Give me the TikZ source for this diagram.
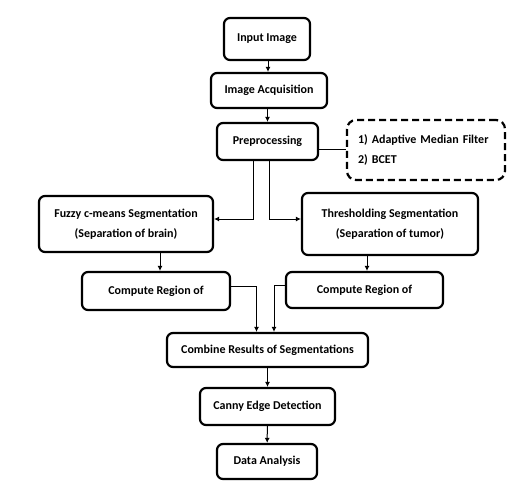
\documentclass[tikz,border=0pt]{standalone}
\usepackage{fontspec}
\setmainfont{Carlito}
\usepackage{tikz}
\usetikzlibrary{arrows.meta}
\tikzset{
  box/.style={draw, line width=2.2pt, rounded corners=6pt, align=center,
    font=\fontsize{12}{20}\selectfont\bfseries, inner sep=0pt},
  dbox/.style={box, dash pattern=on 7pt off 4pt, rounded corners=9pt, align=left},
  arr/.style={line width=1pt, arrows={-{Latex[length=5pt, width=5pt]}}},
  ln/.style={line width=1pt}
}

\begin{document}
\begin{tikzpicture}[x=1pt, y=-1pt]
  \useasboundingbox (0,0) rectangle (507,483);
  \node[box, minimum width=86pt, minimum height=42pt] (input) at (267,39) {Input Image};
  \node[box, minimum width=116pt, minimum height=35pt] (acq) at (269,90.5) {Image Acquisition};
  \node[box, minimum width=101pt, minimum height=37pt] (pre) at (267.5,141.5) {Preprocessing};
  \node[dbox, minimum width=158pt, minimum height=60pt, text width=136pt] (filt) at (426,150) {1) Adaptive Median Filter\\2) BCET};
  \node[box, minimum width=174pt, minimum height=56pt] (fuzzy) at (126,224) {Fuzzy c-means Segmentation\\(Separation of brain)};
  \node[box, minimum width=176pt, minimum height=62pt] (thr) at (390,224) {Thresholding Segmentation\\(Separation of tumor)};
  \node[box, minimum width=148pt, minimum height=38pt] (compL) at (156,291) {Compute Region of};
  \node[box, minimum width=157pt, minimum height=36pt] (compR) at (364.5,290) {Compute Region of};
  \node[box, minimum width=201pt, minimum height=34pt] (comb) at (267.5,350) {Combine Results of Segmentations};
  \node[box, minimum width=135pt, minimum height=37pt] (canny) at (267.5,406.5) {Canny Edge Detection};
  \node[box, minimum width=100pt, minimum height=35pt] (data) at (267,461.5) {Data Analysis};

  \draw[arr] ([xshift=1pt]input.south) -- ([xshift=1pt]input.south |- acq.north);
  \draw[arr] (acq.south -| pre.north) -- (pre.north);
  \draw[ln] ([yshift=-7.5pt]pre.east) -- ([yshift=-7.5pt]pre.east -| filt.west);
  \draw[arr] ([xshift=-14.5pt]pre.south) |- ([yshift=5pt]fuzzy.east);
  \draw[arr] ([xshift=1.5pt]pre.south) |- ([yshift=5pt]thr.west);
  \draw[arr] ([xshift=4pt]fuzzy.south -| compL.north) -- ([xshift=4pt]compL.north);
  \draw[arr] ([xshift=2.5pt]thr.south -| compR.north) -- ([xshift=2.5pt]compR.north);
  \draw[arr] ([yshift=5pt]compL.east) -| ([xshift=-11pt]comb.north);
  \draw[arr] ([yshift=5pt]compR.west) -| ([xshift=6.5pt]comb.north);
  \draw[arr] (comb) -- (canny);
  \draw[arr] (canny) -- (data);
\end{tikzpicture}
\end{document}
